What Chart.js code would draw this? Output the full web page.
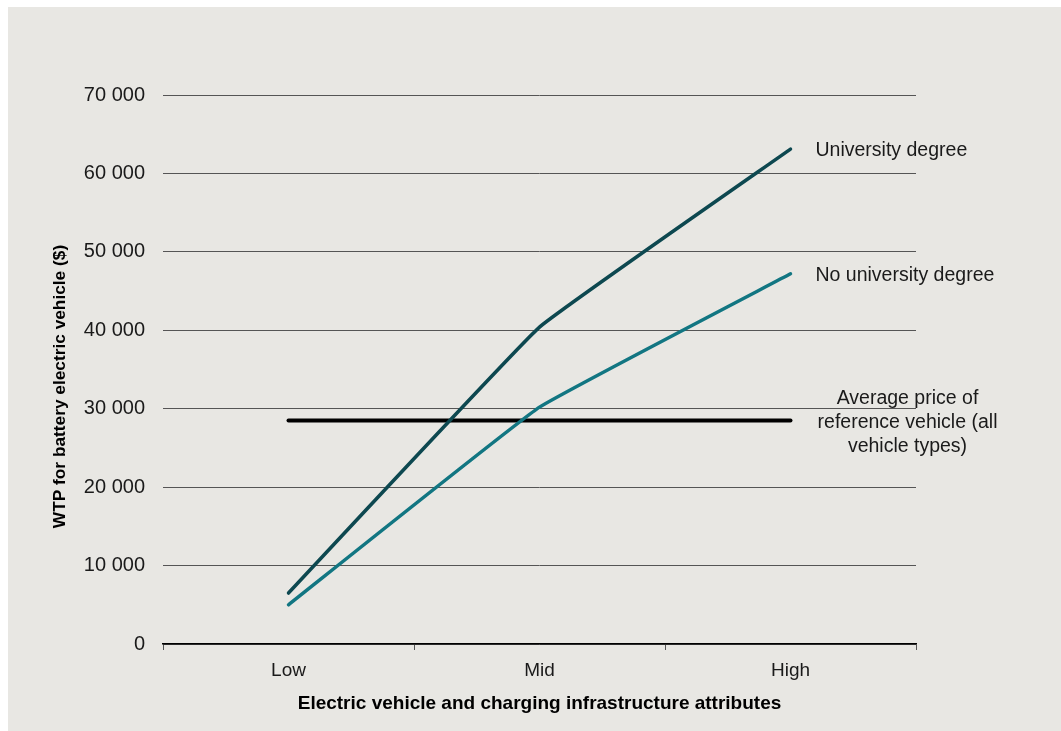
<!DOCTYPE html>
<html>
<head>
<meta charset="utf-8">
<script src="https://cdn.jsdelivr.net/npm/chart.js@4/dist/chart.umd.min.js"></script>
<style>
  body { margin: 0; background: #ffffff; }
  #wrap { position: absolute; left: 8px; top: 7px; width: 1053px; height: 724px; background: #e8e7e3; }
</style>
</head>
<body>
<div id="wrap"><canvas id="chart"></canvas></div>
<script>
// данные графика
const categories = ['Low', 'Mid', 'High'];
const universityDegree = [6500, 40400, 63100];
const noUniversityDegree = [5000, 30200, 47200];
const referencePrice = [28500, 28500, 28500];
const yTicks = [0, 10000, 20000, 30000, 40000, 50000, 60000, 70000];

const FONT = "'Liberation Sans', Arial, sans-serif";

// подписи справа от линий и заголовок оси Y
const sideLabels = {
    id: 'sideLabels',
    afterDatasetsDraw(chart) {
        const ctx = chart.ctx;
        const x = chart.scales.x;
        const y = chart.scales.y;
        const xHigh = x.getPixelForValue(2);
        ctx.save();
        ctx.fillStyle = '#1a1a1a';
        ctx.font = '19.5px ' + FONT;
        ctx.textBaseline = 'middle';
        ctx.textAlign = 'left';
        ctx.fillText('University degree', xHigh + 25, y.getPixelForValue(universityDegree[2]) + 2);
        ctx.fillText('No university degree', xHigh + 25, y.getPixelForValue(noUniversityDegree[2]) + 2);
        ctx.textAlign = 'center';
        const ry = y.getPixelForValue(referencePrice[2]);
        ctx.fillText('Average price of', xHigh + 117, ry - 22);
        ctx.fillText('reference vehicle (all', xHigh + 117, ry + 2);
        ctx.fillText('vehicle types)', xHigh + 117, ry + 26);
        // заголовок оси Y (чуть ниже центра, как в оригинале)
        ctx.fillStyle = '#000000';
        ctx.font = 'bold 17.3px ' + FONT;
        ctx.translate(52, (chart.chartArea.top + chart.chartArea.bottom) / 2 + 17);
        ctx.rotate(-Math.PI / 2);
        ctx.fillText('WTP for battery electric vehicle ($)', 0, 0);
        ctx.restore();
    }
};

new Chart(document.getElementById('chart'), {
    type: 'line',
    data: {
        labels: categories,
        datasets: [
            {
                label: 'University degree',
                data: universityDegree,
                borderColor: '#0d4850',
                borderWidth: 3.5,
                tension: 0.08,
                pointRadius: 0,
                borderCapStyle: 'round'
            },
            {
                label: 'No university degree',
                data: noUniversityDegree,
                borderColor: '#127682',
                borderWidth: 3.5,
                tension: 0.08,
                pointRadius: 0,
                borderCapStyle: 'round'
            },
            {
                label: 'Average price of reference vehicle (all vehicle types)',
                data: referencePrice,
                borderColor: '#000000',
                borderWidth: 4,
                pointRadius: 0,
                borderCapStyle: 'round'
            }
        ]
    },
    options: {
        responsive: true,
        maintainAspectRatio: false,
        animation: false,
        layout: { padding: { top: 88, right: 145, left: 0, bottom: 0 } },
        plugins: {
            legend: { display: false },
            tooltip: { enabled: false }
        },
        scales: {
            x: {
                offset: true,
                grid: {
                    drawOnChartArea: false,
                    drawTicks: true,
                    tickLength: 6,
                    color: '#555555',
                    offset: true
                },
                border: { display: true, color: '#000000', width: 1.5 },
                ticks: {
                    padding: 9,
                    color: '#1a1a1a',
                    font: { family: FONT, size: 19 }
                },
                title: {
                    display: true,
                    text: 'Electric vehicle and charging infrastructure attributes',
                    color: '#000000',
                    font: { family: FONT, size: 19, weight: 'bold' },
                    padding: { top: 0, bottom: 16 }
                },
                afterFit(scale) { scale.height = 87; }
            },
            y: {
                min: 0,
                max: 70000,
                afterBuildTicks(scale) {
                    scale.ticks = yTicks.map(v => ({ value: v }));
                },
                grid: {
                    drawTicks: false,
                    color: '#555555',
                    lineWidth: 1
                },
                border: { display: false },
                ticks: {
                    padding: 18,
                    color: '#1a1a1a',
                    font: { family: FONT, size: 20 },
                    callback: v => v === 0 ? '0' : String(v).replace(/\B(?=(\d{3})+(?!\d))/g, ' ')
                },
                afterFit(scale) { scale.width = 155; }
            }
        }
    },
    plugins: [sideLabels]
});
</script>
</body>
</html>
